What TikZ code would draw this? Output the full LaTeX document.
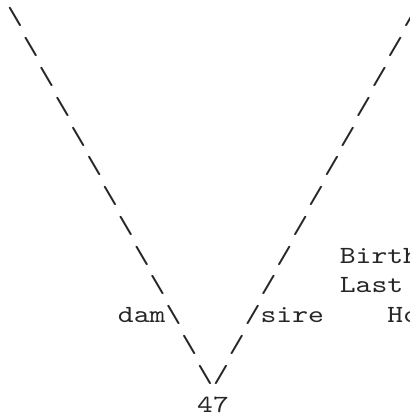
\documentclass[tikz,border=0pt]{standalone}
\usepackage{fontspec}
\newfontfamily\monofont[FakeStretch=1.222]{lmmono10-regular.otf}
\begin{document}
\begin{tikzpicture}[x=1pt,y=-1pt,
  mono/.style={font={\monofont\fontsize{24.7}{30}\selectfont}, anchor=base west, inner sep=0pt, outer sep=0pt, text=black!85}]
\def\cw{15.85}
\def\rh{29.77}
\clip (0,0) rectangle (409,414);
\fill[white] (0,0) rectangle (409,414);
\foreach \r in {0,...,12}{
  \node[mono] (bs\r) at ({7+\cw*\r},{25+\rh*\r}) {\textbackslash};
  \node[mono] (sl\r) at ({7+\cw*(25-\r)},{25+\rh*\r}) {/};
}
\node[mono] (birth) at ({7+\cw*21},{25+\rh*8}) {Birth};
\node[mono] (last) at ({7+\cw*21},{25+\rh*9}) {Last};
\node[mono] (dam) at ({7+\cw*7},{25+\rh*10}) {dam};
\node[mono] (sire) at ({7+\cw*16},{25+\rh*10}) {sire};
\node[mono] (ho) at ({7+\cw*24},{25+\rh*10}) {Ho};
\node[mono] (num) at ({7+\cw*12},{25+\rh*13}) {47};
\end{tikzpicture}
\end{document}
